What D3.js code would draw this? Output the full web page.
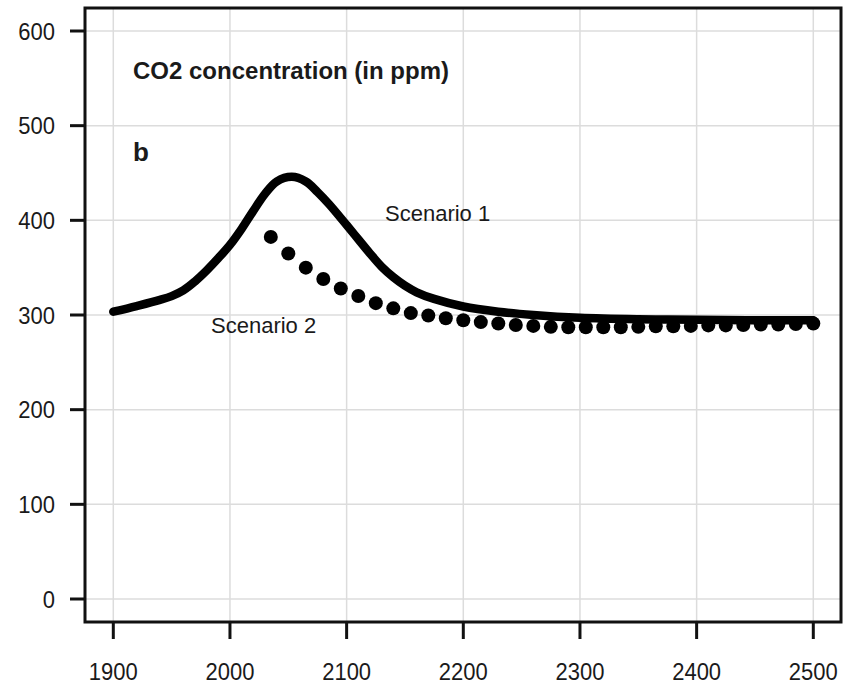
<!DOCTYPE html>
<meta charset="utf-8">
<style>
body { margin: 0; background: #fff; }
text { font-family: "Liberation Sans", Arial, sans-serif; fill: #1a1a1a; }
.grid line { stroke: #dcdcdc; stroke-width: 1.5px; }
.ticks line { stroke: #111; stroke-width: 3px; }
</style>
<svg width="845" height="687"></svg>
<script src="https://d3js.org/d3.v7.min.js"></script>
<script>

// Scenario 1 (solid line): year, ppm
var s1Years = [1900, 1920, 1940, 1950, 1960, 1970, 1980, 1990, 2000, 2010, 2020, 2030, 2040, 2053, 2065, 2075, 2085, 2100, 2110, 2120, 2130, 2140, 2150, 2160, 2175, 2200, 2230, 2260, 2300, 2350, 2400, 2450, 2500];
var s1Values = [303.5, 309.5, 316, 320, 326, 335.5, 347, 360, 374, 391, 410, 428, 441, 446, 441, 430, 417, 395, 380, 365, 351, 340, 331, 324, 317, 309, 303.5, 300, 297, 295.5, 295, 294.5, 294.5];

// Scenario 2 (dots), every 15 years from 2035
var s2Years = [2035, 2050, 2065, 2080, 2095, 2110, 2125, 2140, 2155, 2170, 2185, 2200, 2215, 2230, 2245, 2260, 2275, 2290, 2305, 2320, 2335, 2350, 2365, 2380, 2395, 2410, 2425, 2440, 2455, 2470, 2485, 2500];
var s2Values = [382.5, 365, 350, 338, 328, 320, 312.5, 307, 302, 299.5, 296.5, 294.5, 292.5, 291, 289.5, 288.5, 287.5, 287, 287, 287, 287, 287.5, 288, 288, 288.5, 289, 289, 289.5, 290, 290, 290.5, 291];

var xTicks = [1900, 2000, 2100, 2200, 2300, 2400, 2500];
var yTicks = [0, 100, 200, 300, 400, 500, 600];

var svg = d3.select("svg");

var frame = { left: 85, top: 8, right: 841, bottom: 622 };

var x = d3.scaleLinear().domain([1900, 2500]).range([113.3, 813.3]);
var y = d3.scaleLinear().domain([0, 600]).range([599, 31]);

// grid
var grid = svg.append("g").attr("class", "grid");
grid.selectAll(".gx").data(xTicks).enter().append("line")
    .attr("x1", function (d) { return x(d); })
    .attr("x2", function (d) { return x(d); })
    .attr("y1", frame.top).attr("y2", frame.bottom);
grid.selectAll(".gy").data(yTicks).enter().append("line")
    .attr("y1", function (d) { return y(d); })
    .attr("y2", function (d) { return y(d); })
    .attr("x1", frame.left).attr("x2", frame.right);

// scenario 1 line
var line = d3.line()
    .x(function (d) { return x(d[0]); })
    .y(function (d) { return y(d[1]); })
    .curve(d3.curveCatmullRom.alpha(0.5));

svg.append("path")
    .datum(d3.zip(s1Years, s1Values))
    .attr("fill", "none")
    .attr("stroke", "#000")
    .attr("stroke-width", 8.5)
    .attr("stroke-linecap", "round")
    .attr("d", line);

// scenario 2 dots
svg.append("g").selectAll("circle")
    .data(d3.zip(s2Years, s2Values))
    .enter().append("circle")
    .attr("cx", function (d) { return x(d[0]); })
    .attr("cy", function (d) { return y(d[1]); })
    .attr("r", 7)
    .attr("fill", "#000");

// frame
svg.append("rect")
    .attr("x", frame.left).attr("y", frame.top)
    .attr("width", frame.right - frame.left)
    .attr("height", frame.bottom - frame.top)
    .attr("fill", "none")
    .attr("stroke", "#111")
    .attr("stroke-width", 3);

// axes (ticks outside the frame)
var ticks = svg.append("g").attr("class", "ticks");
ticks.selectAll(".tx").data(xTicks).enter().append("line")
    .attr("x1", function (d) { return x(d); })
    .attr("x2", function (d) { return x(d); })
    .attr("y1", frame.bottom).attr("y2", frame.bottom + 17);
ticks.selectAll(".ty").data(yTicks).enter().append("line")
    .attr("y1", function (d) { return y(d); })
    .attr("y2", function (d) { return y(d); })
    .attr("x1", frame.left - 15).attr("x2", frame.left);

svg.append("g").selectAll("text")
    .data(xTicks).enter().append("text")
    .attr("transform", function (d) { return "translate(" + x(d) + ",680) scale(1,1.12)"; })
    .attr("text-anchor", "middle")
    .style("font-size", "22px")
    .text(function (d) { return d; });

svg.append("g").selectAll("text")
    .data(yTicks).enter().append("text")
    .attr("transform", function (d) { return "translate(55," + (y(d) + 8.5) + ") scale(1,1.12)"; })
    .attr("text-anchor", "end")
    .style("font-size", "22px")
    .text(function (d) { return d; });

// annotations
svg.append("text").attr("x", 133).attr("y", 79)
    .style("font-size", "24px").style("font-weight", "bold")
    .text("CO2 concentration (in ppm)");
svg.append("text").attr("x", 133).attr("y", 161)
    .style("font-size", "26px").style("font-weight", "bold")
    .text("b");
svg.append("text").attr("x", 385).attr("y", 221)
    .style("font-size", "22px")
    .text("Scenario 1");
svg.append("text").attr("x", 211).attr("y", 333)
    .style("font-size", "22px")
    .text("Scenario 2");

</script>
